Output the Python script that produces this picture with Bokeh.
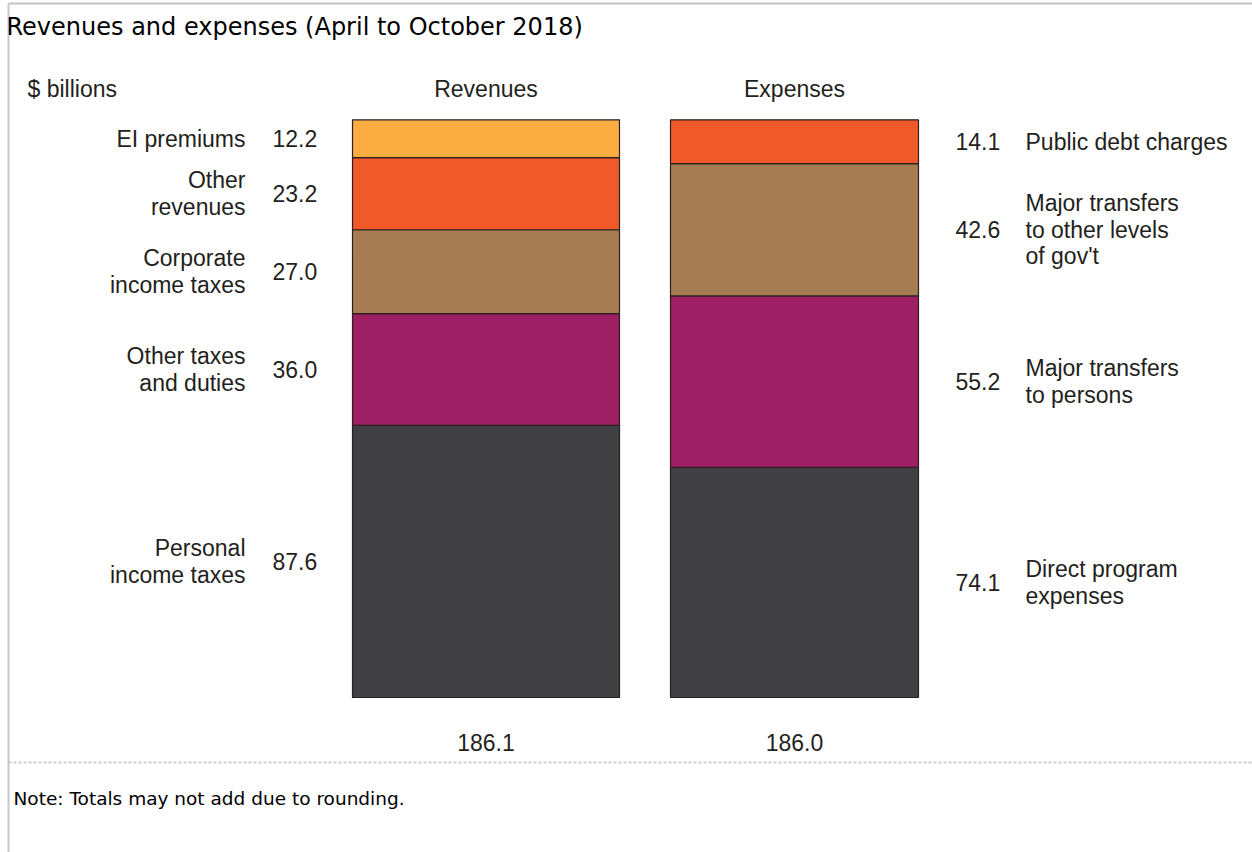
import numpy as np
from bokeh.plotting import figure
from bokeh.models import Range1d
from bokeh.core.properties import value
from bokeh.embed import file_html
from bokeh.resources import INLINE

# ---------------- data ----------------
title_text = "Revenues and expenses (April to October 2018)"
note_text = "Note: Totals may not add due to rounding."
unit_label = "$ billions"
bar_names = ["Revenues", "Expenses"]
bar_totals = [186.1, 186.0]

rev_labels = ["Personal\nincome taxes", "Other taxes\nand duties", "Corporate\nincome taxes",
              "Other\nrevenues", "EI premiums"]
rev_values = [87.6, 36.0, 27.0, 23.2, 12.2]
rev_colors = ["#404042", "#9e1f63", "#a67c52", "#f05a2a", "#fbad41"]

exp_labels = ["Direct program\nexpenses", "Major transfers\nto persons",
              "Major transfers\nto other levels\nof gov't", "Public debt charges"]
exp_values = [74.1, 55.2, 42.6, 14.1]
exp_colors = ["#404042", "#9e1f63", "#a67c52", "#f05a2a"]

# ---------------- layout ----------------
W, H = 1252, 852
BASE_PX, TOP_PX = 697, 119          # pixel rows of zero and of the revenue total
span = bar_totals[0] * H / (BASE_PX - TOP_PX)
y0 = -(H - BASE_PX) / H * span
y1 = y0 + span


def ydata(py):
    return y1 - py / H * span


REV_L, REV_R = 352, 619
EXP_L, EXP_R = 670, 918
rev_cx = (REV_L + REV_R) / 2
exp_cx = (EXP_L + EXP_R) / 2

FONT = value("Liberation Sans")
TXT = "#231f20"
FS = "23px"
LH = 1.02

p = figure(width=W, height=H, x_range=Range1d(0, W), y_range=Range1d(y0, y1),
           output_backend="svg", toolbar_location=None, min_border=0,
           x_axis_location=None, y_axis_location=None)
p.grid.visible = False
p.outline_line_color = None
p.background_fill_color = "white"
p.border_fill_color = "white"


def stack(vals):
    vals = np.array(vals, dtype=float)
    tops = np.cumsum(vals)
    return tops - vals, tops


rb, rt = stack(rev_values)
eb, et = stack(exp_values)

p.quad(left=REV_L, right=REV_R, bottom=rb, top=rt, fill_color=rev_colors,
       line_color="#2a2020", line_width=1.2)
p.quad(left=EXP_L, right=EXP_R, bottom=eb, top=et, fill_color=exp_colors,
       line_color="#2a2020", line_width=1.2)

rmid = (rb + rt) / 2
emid = (eb + et) / 2

common = dict(text_font=FONT, text_font_size=FS, text_color=TXT,
              text_baseline="middle", text_line_height=LH)

# revenue labels and values
p.text(x=245, y=rmid, text=rev_labels, text_align="right", **common)
p.text(x=272, y=rmid, text=[f"{v:.1f}" for v in rev_values], text_align="left", **common)
# expense values and labels
p.text(x=955, y=emid, text=[f"{v:.1f}" for v in exp_values], text_align="left", **common)
p.text(x=1025, y=emid, text=exp_labels, text_align="left", **common)

# headers
p.text(x=[rev_cx, exp_cx], y=[ydata(88)] * 2, text=bar_names, text_align="center", **common)
p.text(x=[27], y=[ydata(88)], text=[unit_label], text_align="left", **common)
# totals
p.text(x=[rev_cx, exp_cx], y=[ydata(742)] * 2, text=[f"{t:.1f}" for t in bar_totals],
       text_align="center", **common)

# frame lines
p.line(x=[8, W], y=[ydata(3)] * 2, line_color="#c3c3c3", line_width=2)
p.line(x=[8, 8], y=[ydata(3), ydata(H)], line_color="#c8c8c8", line_width=2)
p.line(x=[8, W], y=[ydata(762)] * 2, line_color="#cccccc", line_width=2, line_dash="3 2")

# title and note
p.text(x=[6], y=[ydata(26)], text=[title_text], text_font=value("DejaVu Sans"),
       text_font_size="24px", text_color="#000000", text_baseline="middle", text_align="left")
p.text(x=[13], y=[ydata(798)], text=[note_text], text_font=value("DejaVu Sans"),
       text_font_size="18.5px", text_color="#000000", text_baseline="middle", text_align="left")

open("out.html", "w").write(file_html(p, INLINE))
